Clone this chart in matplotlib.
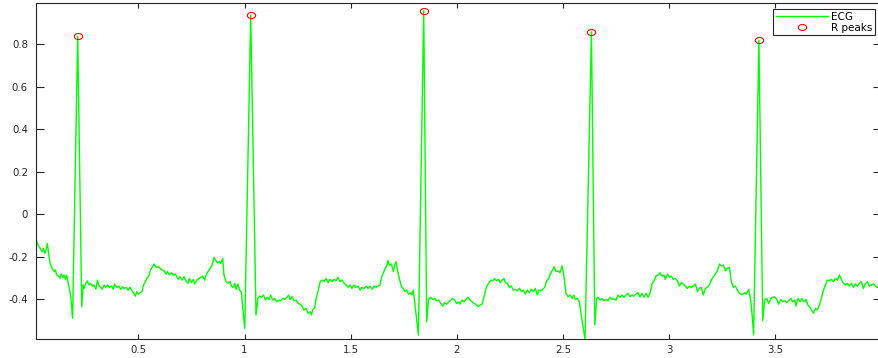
import numpy as np
import matplotlib
matplotlib.use("Agg")
import matplotlib.pyplot as plt
from matplotlib.path import Path
from matplotlib.transforms import Affine2D
from matplotlib.ticker import FuncFormatter

# ECG trace (time in s, amplitude)
ecg_time = [
    0.019, 0.027, 0.037, 0.046, 0.052, 0.059, 0.065, 0.071, 0.078, 0.084,
    0.093, 0.103, 0.109, 0.115, 0.125, 0.131, 0.137, 0.144, 0.150, 0.156,
    0.162, 0.169, 0.175, 0.181, 0.190, 0.214, 0.233, 0.240, 0.244, 0.252,
    0.260, 0.268, 0.275, 0.283, 0.291, 0.300, 0.307, 0.315, 0.322, 0.330,
    0.338, 0.346, 0.354, 0.363, 0.373, 0.382, 0.388, 0.398, 0.407, 0.417,
    0.425, 0.432, 0.442, 0.451, 0.461, 0.470, 0.480, 0.486, 0.492, 0.498,
    0.508, 0.517, 0.524, 0.533, 0.539, 0.549, 0.558, 0.567, 0.574, 0.583,
    0.593, 0.602, 0.611, 0.621, 0.630, 0.637, 0.646, 0.655, 0.665, 0.674,
    0.687, 0.696, 0.706, 0.715, 0.724, 0.734, 0.740, 0.750, 0.759, 0.765,
    0.775, 0.784, 0.793, 0.803, 0.812, 0.819, 0.828, 0.838, 0.847, 0.856,
    0.863, 0.872, 0.881, 0.888, 0.897, 0.903, 0.913, 0.922, 0.932, 0.938,
    0.947, 0.954, 0.960, 0.969, 0.976, 0.985, 0.991, 1.001, 1.029, 1.054,
    1.063, 1.070, 1.079, 1.089, 1.098, 1.108, 1.117, 1.123, 1.133, 1.142,
    1.152, 1.161, 1.170, 1.180, 1.189, 1.199, 1.208, 1.214, 1.224, 1.233,
    1.243, 1.252, 1.261, 1.271, 1.280, 1.290, 1.299, 1.309, 1.315, 1.321,
    1.331, 1.337, 1.346, 1.356, 1.365, 1.374, 1.384, 1.393, 1.403, 1.412,
    1.422, 1.431, 1.440, 1.450, 1.459, 1.469, 1.478, 1.488, 1.497, 1.506,
    1.516, 1.525, 1.535, 1.544, 1.553, 1.563, 1.572, 1.582, 1.591, 1.601,
    1.610, 1.619, 1.629, 1.638, 1.645, 1.654, 1.663, 1.670, 1.676, 1.682,
    1.692, 1.701, 1.707, 1.714, 1.720, 1.729, 1.739, 1.748, 1.754, 1.764,
    1.773, 1.783, 1.789, 1.795, 1.802, 1.811, 1.819, 1.844, 1.858, 1.867,
    1.877, 1.886, 1.896, 1.905, 1.915, 1.924, 1.933, 1.943, 1.952, 1.962,
    1.971, 1.980, 1.990, 1.999, 2.009, 2.015, 2.024, 2.034, 2.043, 2.053,
    2.062, 2.072, 2.081, 2.090, 2.100, 2.109, 2.119, 2.125, 2.134, 2.141,
    2.150, 2.160, 2.169, 2.178, 2.188, 2.197, 2.204, 2.213, 2.222, 2.229,
    2.238, 2.248, 2.257, 2.266, 2.276, 2.285, 2.295, 2.304, 2.313, 2.323,
    2.332, 2.342, 2.351, 2.361, 2.370, 2.379, 2.386, 2.395, 2.404, 2.414,
    2.423, 2.433, 2.442, 2.452, 2.458, 2.467, 2.477, 2.486, 2.496, 2.505,
    2.514, 2.524, 2.533, 2.543, 2.552, 2.558, 2.568, 2.577, 2.587, 2.596,
    2.604, 2.634, 2.650, 2.659, 2.665, 2.675, 2.684, 2.693, 2.703, 2.712,
    2.722, 2.731, 2.740, 2.750, 2.759, 2.769, 2.778, 2.788, 2.797, 2.806,
    2.816, 2.825, 2.835, 2.844, 2.853, 2.863, 2.872, 2.882, 2.891, 2.901,
    2.910, 2.919, 2.929, 2.938, 2.948, 2.957, 2.966, 2.976, 2.982, 2.992,
    3.001, 3.010, 3.020, 3.029, 3.039, 3.048, 3.058, 3.067, 3.076, 3.086,
    3.095, 3.105, 3.114, 3.124, 3.133, 3.142, 3.152, 3.161, 3.171, 3.180,
    3.189, 3.199, 3.208, 3.218, 3.227, 3.237, 3.246, 3.255, 3.265, 3.274,
    3.284, 3.293, 3.303, 3.312, 3.321, 3.331, 3.340, 3.347, 3.356, 3.365,
    3.375, 3.384, 3.391, 3.398, 3.423, 3.441, 3.450, 3.460, 3.469, 3.479,
    3.488, 3.497, 3.507, 3.516, 3.526, 3.535, 3.544, 3.554, 3.563, 3.573,
    3.582, 3.592, 3.598, 3.607, 3.617, 3.626, 3.635, 3.645, 3.654, 3.664,
    3.673, 3.680, 3.689, 3.698, 3.708, 3.717, 3.727, 3.736, 3.745, 3.755,
    3.764, 3.774, 3.783, 3.793, 3.802, 3.811, 3.821, 3.830, 3.840, 3.849,
    3.859, 3.868, 3.877, 3.887, 3.896, 3.906, 3.915, 3.924, 3.934, 3.943,
    3.953, 3.962, 3.972, 3.981, 3.988, 4.000,
]
ecg_value = [
    -0.121, -0.145, -0.160, -0.176, -0.160, -0.184, -0.168, -0.137, -0.192, -0.231,
    -0.254, -0.270, -0.262, -0.286, -0.291, -0.302, -0.281, -0.297, -0.286, -0.306,
    -0.286, -0.325, -0.349, -0.388, -0.489, 0.839, -0.435, -0.333, -0.349, -0.325,
    -0.314, -0.333, -0.325, -0.338, -0.333, -0.353, -0.310, -0.338, -0.344, -0.353,
    -0.333, -0.344, -0.333, -0.344, -0.338, -0.353, -0.328, -0.344, -0.338, -0.353,
    -0.341, -0.349, -0.344, -0.357, -0.344, -0.360, -0.376, -0.385, -0.364, -0.376,
    -0.369, -0.364, -0.333, -0.317, -0.302, -0.291, -0.259, -0.247, -0.234, -0.250,
    -0.247, -0.254, -0.262, -0.266, -0.281, -0.270, -0.286, -0.275, -0.286, -0.281,
    -0.306, -0.294, -0.310, -0.294, -0.313, -0.325, -0.302, -0.322, -0.306, -0.328,
    -0.310, -0.302, -0.297, -0.291, -0.310, -0.286, -0.270, -0.254, -0.239, -0.203,
    -0.215, -0.228, -0.223, -0.231, -0.207, -0.286, -0.317, -0.325, -0.317, -0.338,
    -0.344, -0.325, -0.353, -0.328, -0.357, -0.364, -0.435, -0.537, 0.938, -0.474,
    -0.396, -0.385, -0.391, -0.380, -0.404, -0.391, -0.401, -0.380, -0.404, -0.396,
    -0.412, -0.404, -0.407, -0.396, -0.401, -0.391, -0.380, -0.401, -0.388, -0.407,
    -0.404, -0.420, -0.423, -0.432, -0.451, -0.443, -0.466, -0.459, -0.474, -0.451,
    -0.438, -0.396, -0.364, -0.317, -0.310, -0.317, -0.302, -0.322, -0.306, -0.317,
    -0.306, -0.313, -0.297, -0.317, -0.310, -0.325, -0.333, -0.344, -0.333, -0.349,
    -0.333, -0.344, -0.338, -0.357, -0.344, -0.349, -0.338, -0.349, -0.338, -0.353,
    -0.338, -0.344, -0.338, -0.333, -0.297, -0.275, -0.254, -0.243, -0.218, -0.239,
    -0.234, -0.270, -0.239, -0.223, -0.262, -0.302, -0.341, -0.349, -0.364, -0.357,
    -0.376, -0.369, -0.380, -0.357, -0.420, -0.498, -0.569, 0.958, -0.506, -0.401,
    -0.391, -0.401, -0.396, -0.407, -0.404, -0.420, -0.432, -0.416, -0.423, -0.412,
    -0.404, -0.396, -0.404, -0.420, -0.412, -0.423, -0.404, -0.412, -0.401, -0.391,
    -0.404, -0.412, -0.420, -0.423, -0.435, -0.427, -0.423, -0.401, -0.364, -0.338,
    -0.325, -0.310, -0.313, -0.303, -0.313, -0.306, -0.322, -0.310, -0.302, -0.322,
    -0.325, -0.344, -0.338, -0.357, -0.353, -0.360, -0.349, -0.364, -0.357, -0.376,
    -0.357, -0.369, -0.353, -0.364, -0.349, -0.380, -0.357, -0.360, -0.353, -0.344,
    -0.313, -0.302, -0.275, -0.262, -0.247, -0.270, -0.266, -0.275, -0.243, -0.294,
    -0.372, -0.388, -0.380, -0.396, -0.380, -0.401, -0.396, -0.412, -0.482, -0.537,
    -0.588, 0.859, -0.521, -0.396, -0.391, -0.404, -0.396, -0.407, -0.401, -0.407,
    -0.391, -0.401, -0.398, -0.404, -0.380, -0.391, -0.380, -0.391, -0.380, -0.372,
    -0.388, -0.380, -0.385, -0.376, -0.369, -0.388, -0.372, -0.391, -0.372, -0.391,
    -0.372, -0.328, -0.313, -0.291, -0.286, -0.275, -0.291, -0.286, -0.306, -0.281,
    -0.297, -0.291, -0.306, -0.302, -0.313, -0.338, -0.322, -0.328, -0.338, -0.349,
    -0.338, -0.344, -0.338, -0.328, -0.364, -0.349, -0.344, -0.380, -0.349, -0.344,
    -0.333, -0.310, -0.294, -0.281, -0.266, -0.234, -0.243, -0.239, -0.266, -0.254,
    -0.250, -0.317, -0.344, -0.338, -0.357, -0.372, -0.376, -0.376, -0.369, -0.376,
    -0.353, -0.404, -0.474, -0.568, 0.819, -0.501, -0.404, -0.396, -0.420, -0.396,
    -0.391, -0.388, -0.401, -0.423, -0.401, -0.412, -0.407, -0.416, -0.407, -0.396,
    -0.412, -0.404, -0.432, -0.396, -0.412, -0.396, -0.412, -0.401, -0.427, -0.438,
    -0.454, -0.466, -0.443, -0.451, -0.427, -0.396, -0.357, -0.333, -0.310, -0.313,
    -0.306, -0.317, -0.302, -0.310, -0.286, -0.306, -0.325, -0.333, -0.325, -0.338,
    -0.325, -0.344, -0.328, -0.338, -0.325, -0.317, -0.349, -0.328, -0.317, -0.338,
    -0.333, -0.328, -0.338, -0.344, -0.328, -0.336,
]

# detected R peaks
r_time = [0.214, 1.029, 1.844, 2.634, 3.423]
r_value = [0.839, 0.938, 0.958, 0.859, 0.819]

plt.rcParams['font.family'] = ['DejaVu Sans']
plt.rcParams['axes.unicode_minus'] = False

fig = plt.figure(figsize=(8.79, 3.58), dpi=100)
ax = fig.add_axes([36.3 / 879, 19 / 358, (881.4 - 36.3) / 879, (339 - 3.3) / 358])

ax.plot(ecg_time, ecg_value, color=(0, 1, 0), lw=1.0, label='ECG')

# slightly squashed circle like in the original
ellipse = Path.unit_circle().transformed(Affine2D().scale(1, 0.72))
ax.plot(r_time, r_value, ls='none', marker=ellipse, ms=6, mfc='none',
        mec='red', mew=0.8, label='R peaks')

ax.set_xlim(0.019, 4.0)
ax.set_ylim(-0.587, 0.993)
ax.set_xticks([0.5, 1, 1.5, 2, 2.5, 3, 3.5, 4])
ax.set_yticks([-0.4, -0.2, 0, 0.2, 0.4, 0.6, 0.8])
fmt = FuncFormatter(lambda v, p: '%g' % round(v, 2))
ax.xaxis.set_major_formatter(fmt)
ax.yaxis.set_major_formatter(fmt)

ax.tick_params(axis='both', direction='in', top=True, right=True,
               labelsize=7.3, colors='#262626', width=0.8)
ax.tick_params(axis='x', length=3.6, pad=4)
ax.tick_params(axis='y', length=6, pad=6)
for s in ax.spines.values():
    s.set_color('#262626')
    s.set_linewidth(0.8)

leg = ax.legend(loc='upper right', bbox_to_anchor=(875 / 879, 1 - 9 / 358),
                bbox_transform=fig.transFigure, borderaxespad=0,
                fancybox=False, fontsize=7.5, handlelength=5.0,
                handletextpad=0.3, borderpad=0.25, labelspacing=0.1,
                framealpha=1)
leg.get_frame().set_edgecolor('#262626')
leg.get_frame().set_linewidth(0.8)

fig.savefig('out.png', dpi=100)
